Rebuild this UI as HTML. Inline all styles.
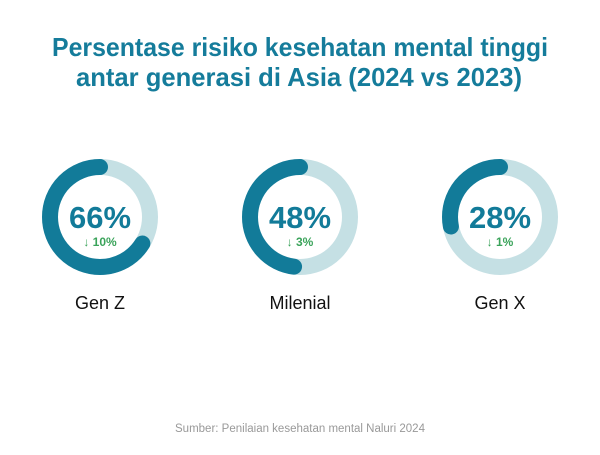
<!DOCTYPE html>
<html><head><meta charset="utf-8"><style>
body{margin:0;background:#fff;width:600px;height:450px;overflow:hidden;font-family:"Liberation Sans",sans-serif}
</style></head><body>
<svg width="600" height="450" xmlns="http://www.w3.org/2000/svg" font-family="Liberation Sans, sans-serif">
<text x="52" y="56" textLength="496" lengthAdjust="spacingAndGlyphs" font-size="26" font-weight="bold" fill="#157c9b">Persentase risiko kesehatan mental tinggi</text>
<text x="76" y="86" textLength="446" lengthAdjust="spacingAndGlyphs" font-size="26" font-weight="bold" fill="#157c9b">antar generasi di Asia (2024 vs 2023)</text>
<g>
<circle cx="100" cy="217" r="50" fill="none" stroke="#c5e0e4" stroke-width="16"/>
<circle cx="100" cy="217" r="50" fill="none" stroke="#127b99" stroke-width="16" stroke-linecap="round" stroke-dasharray="207.3 400" transform="translate(200 0) scale(-1 1) rotate(-90 100 217)"/>
<text x="100" y="228" text-anchor="middle" font-size="31" font-weight="bold" fill="#127b99">66%</text>
<text x="100" y="246" text-anchor="middle" font-size="12" font-weight="bold" fill="#3aa35a">↓ 10%</text>
<text x="100" y="309" text-anchor="middle" font-size="18" fill="#111">Gen Z</text>
</g>
<g>
<circle cx="300" cy="217" r="50" fill="none" stroke="#c5e0e4" stroke-width="16"/>
<circle cx="300" cy="217" r="50" fill="none" stroke="#127b99" stroke-width="16" stroke-linecap="round" stroke-dasharray="150.8 400" transform="translate(600 0) scale(-1 1) rotate(-90 300 217)"/>
<text x="300" y="228" text-anchor="middle" font-size="31" font-weight="bold" fill="#127b99">48%</text>
<text x="300" y="246" text-anchor="middle" font-size="12" font-weight="bold" fill="#3aa35a">↓ 3%</text>
<text x="300" y="309" text-anchor="middle" font-size="18" fill="#111">Milenial</text>
</g>
<g>
<circle cx="500" cy="217" r="50" fill="none" stroke="#c5e0e4" stroke-width="16"/>
<circle cx="500" cy="217" r="50" fill="none" stroke="#127b99" stroke-width="16" stroke-linecap="round" stroke-dasharray="88 400" transform="translate(1000 0) scale(-1 1) rotate(-90 500 217)"/>
<text x="500" y="228" text-anchor="middle" font-size="31" font-weight="bold" fill="#127b99">28%</text>
<text x="500" y="246" text-anchor="middle" font-size="12" font-weight="bold" fill="#3aa35a">↓ 1%</text>
<text x="500" y="309" text-anchor="middle" font-size="18" fill="#111">Gen X</text>
</g>
<text x="300" y="432" text-anchor="middle" font-size="11.5" fill="#999">Sumber: Penilaian kesehatan mental Naluri 2024</text>
</svg>
</body></html>
